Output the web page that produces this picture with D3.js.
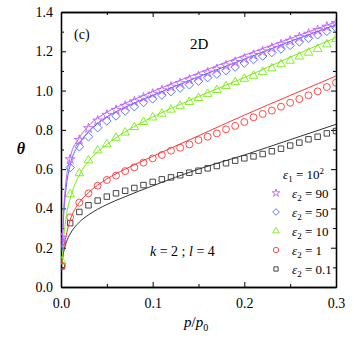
<!DOCTYPE html>
<html lang="en">
<head>
<meta charset="utf-8">
<title>theta vs p/p0</title>
<script src="https://cdn.jsdelivr.net/npm/d3@7"></script>
<style>
  body { margin: 0; background: #fff; }
  svg text { font-family: "Liberation Serif", "Times New Roman", serif; fill: #000; }
  .axis path, .axis line { stroke: #000; }
</style>
</head>
<body>
<script>
// symbol x positions
var pSym = [0.001, 0.01, 0.02, 0.03, 0.04, 0.05, 0.06, 0.07, 0.08, 0.09, 0.10,
            0.11, 0.12, 0.13, 0.14, 0.15, 0.16, 0.17, 0.18, 0.19, 0.20,
            0.21, 0.22, 0.23, 0.24, 0.25, 0.26, 0.27, 0.28, 0.29, 0.30];

// measured points (symbols)
var sym90  = [0.25, 0.65, 0.748, 0.808, 0.847, 0.876, 0.901, 0.922, 0.944, 0.964, 0.983,
              1.001, 1.019, 1.037, 1.055, 1.073, 1.091, 1.109, 1.127, 1.145, 1.163,
              1.181, 1.199, 1.217, 1.235, 1.253, 1.271, 1.289, 1.307, 1.325, 1.343];
var sym50  = [0.23, 0.608, 0.714, 0.765, 0.811, 0.845, 0.871, 0.896, 0.918, 0.94, 0.958,
              0.977, 0.995, 1.013, 1.03, 1.048, 1.066, 1.084, 1.102, 1.12, 1.14,
              1.158, 1.176, 1.194, 1.212, 1.23, 1.248, 1.266, 1.284, 1.302, 1.32];
var sym10  = [0.13, 0.472, 0.579, 0.645, 0.695, 0.727, 0.76, 0.786, 0.814, 0.84, 0.863,
              0.882, 0.903, 0.922, 0.942, 0.962, 0.983, 1.003, 1.023, 1.043, 1.06,
              1.075, 1.095, 1.113, 1.134, 1.152, 1.173, 1.193, 1.212, 1.235, 1.262];
var sym1   = [0.108, 0.355, 0.43, 0.477, 0.516, 0.545, 0.567, 0.59, 0.609, 0.633, 0.655,
              0.672, 0.694, 0.709, 0.726, 0.748, 0.765, 0.782, 0.803, 0.82, 0.84,
              0.864, 0.881, 0.898, 0.918, 0.938, 0.957, 0.976, 0.996, 1.018, 1.04];
var sym01  = [0.105, 0.325, 0.382, 0.416, 0.44, 0.46, 0.477, 0.49, 0.504, 0.519, 0.535,
              0.548, 0.558, 0.569, 0.582, 0.592, 0.604, 0.616, 0.63, 0.643, 0.655,
              0.665, 0.677, 0.691, 0.704, 0.72, 0.735, 0.752, 0.765, 0.782, 0.794];

// model curves (lines)
var pLine  = [0.001, 0.003, 0.006, 0.01, 0.02, 0.03, 0.05, 0.07, 0.10, 0.15, 0.20, 0.25, 0.30];
var line90 = [0.2, 0.4, 0.56, 0.66, 0.76, 0.82, 0.89, 0.935, 0.995, 1.09, 1.18, 1.265, 1.35];
var line50 = [0.18, 0.37, 0.52, 0.62, 0.73, 0.79, 0.865, 0.915, 0.975, 1.07, 1.16, 1.25, 1.334];
var line10 = [0.13, 0.25, 0.37, 0.45, 0.57, 0.64, 0.725, 0.79, 0.865, 0.97, 1.066, 1.17, 1.27];
var line1  = [0.12, 0.2, 0.27, 0.34, 0.43, 0.48, 0.55, 0.6, 0.665, 0.77, 0.875, 0.975, 1.074];
var line01 = [0.12, 0.18, 0.23, 0.27, 0.33, 0.367, 0.42, 0.46, 0.515, 0.6, 0.672, 0.75, 0.828];

var seriesLabels = ["90", "50", "10", "1", "0.1"];
var seriesColors = ["#c060ff", "#4a6cff", "#77ee11", "#ff3838", "#333333"];
var seriesSymbols = ["star", "diamond", "triangle", "circle", "square"];
var symData = [sym90, sym50, sym10, sym1, sym01];
var lineData = [line90, line50, line10, line1, line01];

var xTicks = [0.0, 0.1, 0.2, 0.3];
var yTicks = [0.0, 0.2, 0.4, 0.6, 0.8, 1.0, 1.2, 1.4];

var w = 354, h = 341;
var padL = 61, padR = 336, padT = 12, padB = 287;

var svg = d3.select("body").append("svg")
  .attr("width", w).attr("height", h);

var x = d3.scaleLinear().domain([0, 0.3]).range([padL, padR]);
var y = d3.scaleLinear().domain([0, 1.4]).range([padB, padT]);

// axes: ticks pointing inward, mirrored on top/right
function drawAxis(axis, tr, cls) {
  var g = svg.append("g").attr("class", "axis " + cls)
    .attr("transform", tr).call(axis);
  g.select(".domain").attr("stroke-width", 1.3);
  return g;
}
var fmt = d3.format(".1f");
var xMinor = [0.05, 0.15, 0.25], yMinor = [0.1, 0.3, 0.5, 0.7, 0.9, 1.1, 1.3];

var gb = drawAxis(d3.axisBottom(x).tickValues(xTicks).tickFormat(fmt).tickSizeInner(-5).tickSizeOuter(0).tickPadding(8),
  "translate(0," + padB + ")", "xb");
gb.selectAll("text").attr("font-size", "14px").attr("dy", "0.9em");
drawAxis(d3.axisBottom(x).tickValues(xMinor).tickFormat("").tickSizeInner(-3).tickSizeOuter(0),
  "translate(0," + padB + ")", "xbm");
drawAxis(d3.axisTop(x).tickValues(xTicks).tickFormat("").tickSizeInner(-5).tickSizeOuter(0),
  "translate(0," + padT + ")", "xt");
drawAxis(d3.axisTop(x).tickValues(xMinor).tickFormat("").tickSizeInner(-3).tickSizeOuter(0),
  "translate(0," + padT + ")", "xtm");

var gl = drawAxis(d3.axisLeft(y).tickValues(yTicks).tickFormat(fmt).tickSizeInner(-5).tickSizeOuter(0).tickPadding(8),
  "translate(" + padL + ",0)", "yl");
gl.selectAll("text").attr("font-size", "14px");
drawAxis(d3.axisLeft(y).tickValues(yMinor).tickFormat("").tickSizeInner(-3).tickSizeOuter(0),
  "translate(" + padL + ",0)", "ylm");
drawAxis(d3.axisRight(y).tickValues(yTicks).tickFormat("").tickSizeInner(-5).tickSizeOuter(0),
  "translate(" + padR + ",0)", "yr");
drawAxis(d3.axisRight(y).tickValues(yMinor).tickFormat("").tickSizeInner(-3).tickSizeOuter(0),
  "translate(" + padR + ",0)", "yrm");

// clip for the data
svg.append("clipPath").attr("id", "clip").append("rect")
  .attr("x", padL).attr("y", padT).attr("width", padR - padL).attr("height", padB - padT);

var plot = svg.append("g").attr("clip-path", "url(#clip)");

var line = d3.line()
  .x(function(d) { return x(d[0]); })
  .y(function(d) { return y(d[1]); })
  .curve(d3.curveMonotoneX);

var symTypes = {
  star: d3.symbolStar, diamond: d3.symbolDiamond, triangle: d3.symbolTriangle,
  circle: d3.symbolCircle, square: d3.symbolSquare
};
var symSizes = { star: 30, diamond: 30, triangle: 32, circle: 38, square: 30 };

function symPath(kind, k) {
  k = k || 1;
  if (kind === "diamond") {
    // wider, square-rotated diamond
    var r = 4.3 * Math.sqrt(k);
    return "M0," + (-r) + "L" + r + ",0L0," + r + "L" + (-r) + ",0Z";
  }
  return d3.symbol().type(symTypes[kind]).size(symSizes[kind] * k)();
}

// draw from bottom series to top
for (var s = seriesLabels.length - 1; s >= 0; s--) {
  var ld = pLine.map(function(p, i) { return [p, lineData[s][i]]; });
  plot.append("path").datum(ld)
    .attr("d", line)
    .attr("fill", "none")
    .attr("stroke", seriesColors[s])
    .attr("stroke-width", 1);

  var sd = pSym.map(function(p, i) { return [p, symData[s][i]]; });
  plot.selectAll(".sym" + s).data(sd).enter().append("path")
    .attr("class", "sym" + s)
    .attr("transform", function(d) { return "translate(" + x(d[0]) + "," + y(d[1]) + ")"; })
    .attr("d", symPath(seriesSymbols[s]))
    .attr("fill", "none")
    .attr("stroke", seriesColors[s])
    .attr("stroke-width", 0.9);
}

// legend
var legX = 276, legY0 = 193, legDy = 19;
var head = svg.append("text").attr("x", 283).attr("y", 179).attr("font-size", "13px");
head.append("tspan").attr("font-style", "italic").text("ε");
head.append("tspan").attr("font-size", "9px").attr("dy", 3).text("1");
head.append("tspan").attr("dy", -3).text(" = 10");
head.append("tspan").attr("font-size", "9px").attr("dy", -5).text("2");

seriesLabels.forEach(function(lab, i) {
  var yy = legY0 + i * legDy;
  svg.append("path")
    .attr("transform", "translate(" + legX + "," + yy + ")")
    .attr("d", symPath(seriesSymbols[i], 0.6))
    .attr("fill", "none")
    .attr("stroke", seriesColors[i])
    .attr("stroke-width", 0.9);
  var t = svg.append("text").attr("x", 292).attr("y", yy + 5).attr("font-size", "13px");
  t.append("tspan").attr("font-style", "italic").text("ε");
  t.append("tspan").attr("font-size", "9px").attr("dy", 3).text("2");
  t.append("tspan").attr("dy", -3).text(" = " + lab);
});

// annotations
svg.append("text").attr("x", 74).attr("y", 39).attr("font-size", "14px").text("(c)");
svg.append("text").attr("x", 190).attr("y", 49).attr("font-size", "15px").text("2D");

var kl = svg.append("text").attr("x", 150).attr("y", 256).attr("font-size", "14px");
kl.append("tspan").attr("font-style", "italic").text("k");
kl.append("tspan").text(" = 2 ; ");
kl.append("tspan").attr("font-style", "italic").text("l");
kl.append("tspan").text(" = 4");

// axis titles
var xl = svg.append("text").attr("x", 184).attr("y", 327).attr("font-size", "15px");
xl.append("tspan").attr("font-style", "italic").text("p");
xl.append("tspan").text("/");
xl.append("tspan").attr("font-style", "italic").text("p");
xl.append("tspan").attr("font-size", "10px").attr("dy", 4).text("0");

svg.append("text")
  .attr("x", 21).attr("y", 154)
  .attr("text-anchor", "middle")
  .attr("font-size", "16px")
  .attr("font-style", "italic")
  .attr("font-weight", "bold")
  .text("θ");
</script>
</body>
</html>
